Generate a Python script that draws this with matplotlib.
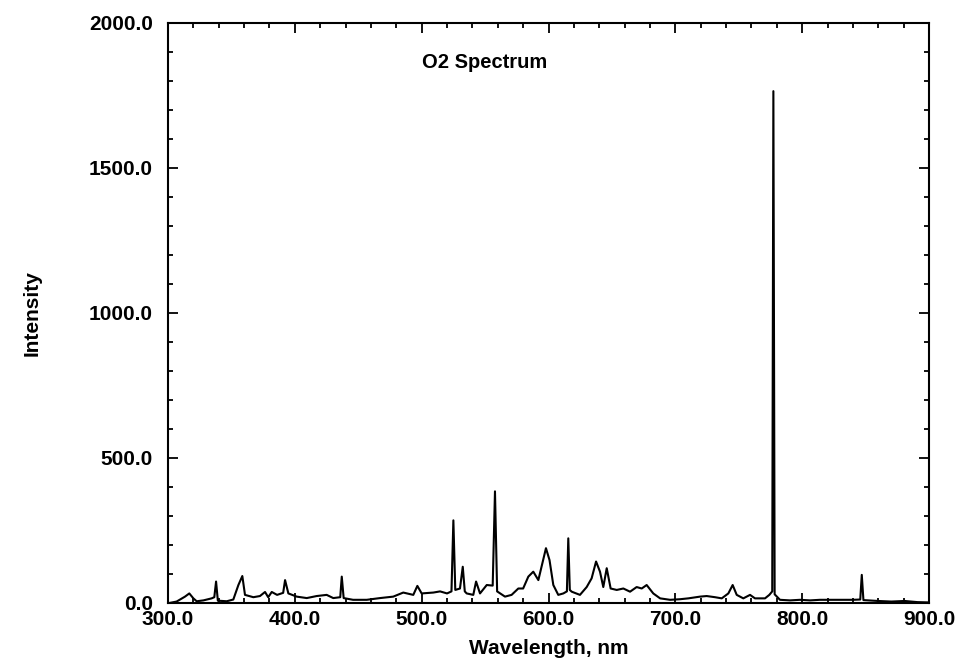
import matplotlib
matplotlib.use("Agg")
import matplotlib.pyplot as plt
from matplotlib.ticker import MultipleLocator, FormatStrFormatter

plt.rcParams['font.family'] = ['Liberation Sans', 'DejaVu Sans']

wavelength = [301, 306.8, 313.4, 316.8, 320, 322.6, 327.9, 334.4, 336.5, 337.9, 339.3,
              346.3, 351.5, 355.5, 358.6, 360.7, 367.3, 372.5, 376.5, 379, 381.8, 386,
              390.8, 392.3, 394.9, 401.5, 409.4, 417.2, 425.1, 430.3, 435.8, 437, 438.5,
              445.9, 456.7, 467.2, 477.6, 485.5, 493.4, 496.6, 500, 509.2, 514.5, 520,
              523.5, 525, 526.5, 530.2, 532.4, 534, 535.5, 540.7, 542.9, 546, 551.3,
              556, 557.8, 559.5, 565.7, 570.9, 576.2, 580, 584.1, 588, 592, 598, 600.8,
              603.8, 607.7, 611.7, 614.5, 615.6, 616.8, 618.3, 624.8, 630.1, 634, 637.5,
              640.6, 643.2, 645.9, 649, 653.8, 659, 664.3, 669.5, 673.5, 677.4, 682.6,
              688, 695.8, 703.7, 710.2, 719.5, 724.7, 731.3, 736.6, 741.8, 745.2, 748.4,
              753.6, 758.9, 762.8, 766.7, 770.7, 774.1, 776.4, 777.3, 778.3, 782.5, 790.4,
              798.3, 806.2, 814, 827, 840.3, 845.8, 847, 848.3, 859.8, 870.3, 880.8, 891,
              900]
intensity = [0, 5, 22, 33, 16, 6, 9, 16, 20, 74, 8,
             6, 12, 62, 93, 28, 20, 24, 38, 20, 38, 28,
             35, 79, 33, 22, 17, 24, 28, 17, 20, 91, 17,
             11, 11, 17, 22, 36, 28, 59, 33, 36, 40, 33,
             40, 285, 45, 50, 125, 40, 33, 28, 74, 33, 62,
             60, 385, 40, 22, 28, 50, 50, 91, 108, 79, 189, 148,
             62, 28, 33, 40, 223, 45, 39, 28, 55, 85, 143,
             108, 55, 120, 50, 45, 50, 39, 55, 50, 62, 33,
             16, 11, 13, 16, 22, 24, 20, 16, 33, 62, 28,
             16, 28, 16, 16, 16, 28, 40, 1765, 30, 11, 9,
             11, 9, 11, 11, 11, 12, 97, 10, 7, 5, 7, 3,
             2]

x_ticks = [300, 400, 500, 600, 700, 800, 900]
y_ticks = [0, 500, 1000, 1500, 2000]

fig = plt.figure(figsize=(9.68, 6.71), dpi=100)
ax = fig.add_axes([168/968, 1-603/671, (929-168)/968, (603-23)/671])

ax.plot(wavelength, intensity, color='black', lw=1.5)

ax.set_xlim(300, 900)
ax.set_ylim(0, 2000)
ax.set_xticks(x_ticks)
ax.set_yticks(y_ticks)
ax.xaxis.set_minor_locator(MultipleLocator(20))
ax.yaxis.set_minor_locator(MultipleLocator(100))
ax.xaxis.set_major_formatter(FormatStrFormatter('%.1f'))
ax.yaxis.set_major_formatter(FormatStrFormatter('%.1f'))

for s in ax.spines.values():
    s.set_linewidth(1.5)

ax.tick_params(which='both', direction='in', top=True, right=True, width=1.3)
ax.tick_params(which='major', length=7)
ax.tick_params(which='minor', length=3.5)
ax.tick_params(axis='x', which='major', pad=5, labelsize=15)
ax.tick_params(axis='y', which='major', pad=11, labelsize=15)
for lab in ax.get_xticklabels() + ax.get_yticklabels():
    lab.set_fontweight('bold')

ax.set_xlabel('Wavelength, nm', fontsize=15, fontweight='bold', labelpad=7)
ax.set_ylabel('Intensity', fontsize=15, fontweight='bold', labelpad=34)

ax.text(550, 1865, 'O2 Spectrum', ha='center', va='center', fontsize=14.5, fontweight='bold')

fig.savefig('out.png', dpi=100)
